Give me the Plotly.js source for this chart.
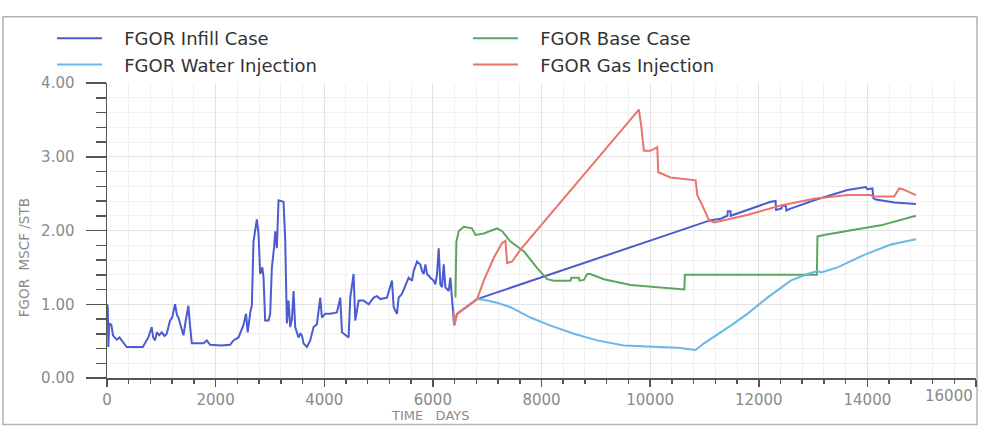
<!DOCTYPE html>
<html>
<head>
<meta charset="utf-8">
<script src="https://cdn.plot.ly/plotly-3.0.1.min.js"></script>
<style>html,body{margin:0;padding:0;background:#fff;}#chart{width:986px;height:431px;}</style>
</head>
<body>
<div id="chart"></div>
<script>
// ---- data ----
const seriesNames = ["FGOR Infill Case", "FGOR Base Case", "FGOR Water Injection", "FGOR Gas Injection"];

const infillDays = [0,15,25,40,80,110,140,180,230,280,330,362,660,700,760,823,850,885,920,960,1008,1060,1100,1161,1200,1253,1290,1315,1380,1407,1450,1499,1530,1561,1776,1837,1898,2100,2267,2328,2421,2480,2513,2560,2590,2640,2667,2697,2740,2759,2790,2820,2860,2882,2912,2974,3005,3035,3080,3097,3128,3158,3250,3281,3312,3342,3373,3405,3435,3465,3527,3560,3588,3619,3680,3742,3803,3865,3926,3957,4018,4110,4233,4295,4326,4356,4448,4479,4540,4571,4633,4725,4817,4909,4971,5032,5155,5247,5278,5339,5370,5431,5524,5554,5616,5646,5708,5769,5800,5831,5862,5892,5954,6015,6046,6077,6107,6138,6169,6200,6230,6292,6322,6353,6390,6445,6814,11115,11300,11423,11430,11480,11485,12221,12310,12320,12420,12430,12500,12510,12560,13019,13634,13971,14000,14094,14110,14156,14500,14894];
const infillFgor = [1.00,0.95,0.42,0.74,0.72,0.58,0.55,0.52,0.55,0.50,0.44,0.42,0.42,0.47,0.55,0.69,0.55,0.51,0.62,0.58,0.62,0.57,0.60,0.78,0.82,1.00,0.85,0.82,0.62,0.58,0.78,0.98,0.70,0.47,0.47,0.51,0.45,0.44,0.45,0.51,0.55,0.65,0.72,0.87,0.62,0.90,0.98,1.85,2.10,2.15,1.95,1.41,1.50,1.36,0.78,0.78,0.87,1.49,1.80,1.99,1.76,2.41,2.39,1.88,0.74,1.05,0.69,0.80,1.18,0.69,0.55,0.60,0.58,0.47,0.42,0.51,0.69,0.73,1.09,0.82,0.87,0.87,0.89,1.09,0.62,0.60,0.55,1.09,1.41,0.78,1.05,1.05,1.00,1.09,1.11,1.07,1.09,1.32,0.96,0.87,1.09,1.14,1.32,1.36,1.32,1.45,1.58,1.54,1.45,1.41,1.54,1.41,1.36,1.32,1.27,1.41,1.76,1.27,1.23,1.54,1.23,1.18,1.36,1.09,0.72,0.87,1.07,2.14,2.16,2.20,2.26,2.26,2.20,2.39,2.40,2.28,2.30,2.34,2.33,2.27,2.29,2.41,2.55,2.59,2.56,2.57,2.44,2.42,2.38,2.36];

const baseDays = [6415,6433,6476,6568,6720,6783,6937,7060,7183,7275,7429,7674,7920,8104,8227,8534,8550,8688,8700,8780,8841,8900,9148,9640,10254,10562,10630,10640,12897,13050,13070,13081,13200,13757,14248,14894];
const baseFgor = [1.09,1.85,1.99,2.05,2.03,1.94,1.96,1.99,2.03,1.99,1.85,1.72,1.49,1.34,1.32,1.32,1.36,1.36,1.32,1.33,1.41,1.41,1.34,1.26,1.22,1.20,1.20,1.40,1.40,1.41,1.40,1.92,1.94,2.01,2.07,2.20];

const waterDays = [6390,6445,6814,6937,7183,7429,7797,8166,8596,9026,9517,10008,10500,10838,10992,11484,11791,12160,12589,12897,13081,13150,13450,13941,14433,14894];
const waterFgor = [0.72,0.87,1.07,1.06,1.02,0.96,0.82,0.71,0.60,0.51,0.44,0.42,0.41,0.38,0.47,0.71,0.87,1.09,1.32,1.41,1.45,1.43,1.50,1.67,1.81,1.88];

const gasDays = [6380,6396,6445,6814,6937,7121,7275,7336,7367,7459,7613,9793,9836,9885,10008,10132,10150,10377,10838,10869,10961,11084,11176,11791,12405,13019,13634,14064,14100,14494,14586,14650,14894];
const gasFgor = [0.91,0.71,0.87,1.07,1.32,1.63,1.83,1.86,1.56,1.58,1.74,3.64,3.42,3.08,3.08,3.13,2.79,2.72,2.68,2.48,2.34,2.14,2.11,2.21,2.34,2.43,2.48,2.48,2.46,2.46,2.57,2.56,2.48];

const xTickVals = [0,2000,4000,6000,8000,10000,12000,14000,16000];
const xTickText = ["0","2000","4000","6000","8000","10000","12000","14000",""];
const lastXLabel = "16000";
const yTickVals = [0,1,2,3,4];
const yTickText = ["0.00","1.00","2.00","3.00","4.00"];
const xTitle = "TIME\u00a0\u00a0\u00a0DAYS";
const yTitle = "FGOR\u00a0\u00a0MSCF\u00a0/STB";

// ---- styles ----
const colors = ["#4b5bd2", "#5da55c", "#68b8e8", "#ea736c"];
const tickFont = {family: "DejaVu Sans", size: 15, color: "#8a8a8a"};
const legendPad = "\u00a0\u00a0\u00a0";

const traces = [
  {x: infillDays, y: infillFgor, name: seriesNames[0]},
  {x: baseDays, y: baseFgor, name: seriesNames[1]},
  {x: waterDays, y: waterFgor, name: seriesNames[2]},
  {x: gasDays, y: gasFgor, name: seriesNames[3]}
].map((t, i) => Object.assign(t, {
  type: "scatter", mode: "lines",
  name: legendPad + t.name,
  line: {color: colors[i], width: 2}
}));

const L = 107, R = 10, T = 80, B = 53, W = 986, H = 431;
const pw = W - L - R, ph = H - T - B;
const px = v => (v - L) / pw;
const py = v => 1 - (v - T) / ph;

const layout = {
  width: W, height: H,
  margin: {l: L, r: R, t: T, b: B, pad: 0},
  paper_bgcolor: "#ffffff", plot_bgcolor: "#ffffff",
  showlegend: true,
  legend: {
    orientation: "h", xref: "container", yref: "container",
    x: 52 / W, y: 1 - 20 / H, xanchor: "left", yanchor: "top",
    font: {family: "DejaVu Sans", size: 18, color: "#333333"},
    itemwidth: 45, entrywidth: 356, entrywidthmode: "pixels",
    bgcolor: "rgba(0,0,0,0)", tracegroupgap: 0
  },
  xaxis: {
    range: [0, 16000], tickmode: "array", tickvals: xTickVals, ticktext: xTickText,
    ticks: "outside", ticklen: 7, tickwidth: 1.5, tickcolor: "#555",
    showline: true, linecolor: "#555", linewidth: 1.5, zeroline: false,
    showgrid: true, gridcolor: "#e3e3e3", gridwidth: 1,
    tickfont: tickFont,
    minor: {tickmode: "linear", tick0: 0, dtick: 400, ticks: "outside", ticklen: 4, tickcolor: "#555", showgrid: true, gridcolor: "#f0f0f0"}
  },
  yaxis: {
    range: [0, 4], tickmode: "array", tickvals: yTickVals, ticktext: yTickText,
    ticks: "outside", ticklen: 20, tickwidth: 1.5, tickcolor: "#555",
    showline: true, linecolor: "#555", linewidth: 1.5, zeroline: false,
    showgrid: true, gridcolor: "#e3e3e3", gridwidth: 1,
    tickfont: tickFont, ticklabelstandoff: 8,
    minor: {tickmode: "linear", tick0: 0, dtick: 0.2, ticks: "outside", ticklen: 10, tickcolor: "#555", showgrid: true, gridcolor: "#f0f0f0"}
  },
  annotations: [
    {text: yTitle, xref: "paper", yref: "paper", x: px(24), y: py(257), textangle: -90,
     showarrow: false, xanchor: "center", yanchor: "middle",
     font: {family: "DejaVu Sans", size: 13.5, color: "#8a8a8a"}},
    {text: xTitle, xref: "paper", yref: "paper", x: px(430), y: py(416),
     showarrow: false, xanchor: "center", yanchor: "middle",
     font: {family: "DejaVu Sans", size: 13, color: "#8a8a8a"}},
    {text: lastXLabel, xref: "paper", yref: "paper", x: px(949), y: py(396),
     showarrow: false, xanchor: "center", yanchor: "middle", font: tickFont}
  ],
  shapes: [
    {type: "rect", xref: "paper", yref: "paper", x0: px(3), x1: px(977), y0: py(425), y1: py(13),
     line: {color: "#b4b4b4", width: 1.5}, fillcolor: "rgba(0,0,0,0)", layer: "below"}
  ]
};

Plotly.newPlot("chart", traces, layout, {staticPlot: true, displayModeBar: false});
</script>
</body>
</html>
